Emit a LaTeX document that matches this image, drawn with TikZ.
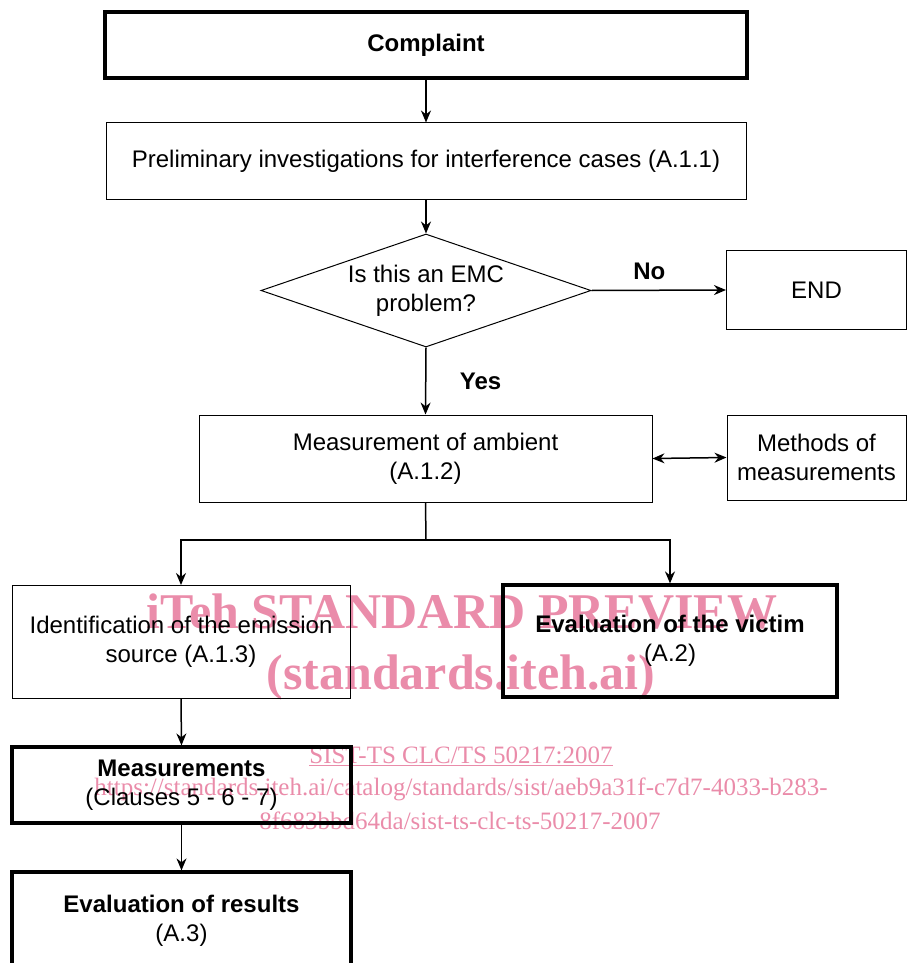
\documentclass[tikz,border=0pt]{standalone}
\usepackage{fontspec}
\setmainfont{Liberation Sans}
\newfontfamily\wmfont{Liberation Serif}
\usetikzlibrary{arrows.meta,shapes.geometric}

\definecolor{wmpink}{RGB}{234,140,170}

\tikzset{
  box/.style={draw, line width=1pt, align=center, inner sep=0pt},
  thickbox/.style={box, line width=3.2pt},
  arr/.style={line width=1.5pt, -{Stealth[length=12pt,width=10pt]}},
  tag/.style={font=\fontsize{24}{29}\selectfont\bfseries},
  wm/.style={text=wmpink, align=center, inner sep=0pt}
}

\begin{document}
\begin{tikzpicture}[x=1pt, y=-1pt, font=\fontsize{24}{29}\selectfont]
\useasboundingbox (0,0) rectangle (906,963);

% watermark (under the chart)
\node[wm, font=\wmfont\fontsize{50}{50}\selectfont\bfseries] (wmtitle) at (462,612) {iTeh STANDARD PREVIEW};
\node[wm, font=\wmfont\fontsize{50}{50}\selectfont\bfseries] (wmsite) at (461,677) {(standards.iteh.ai)};
\node[wm, font=\wmfont\fontsize{25}{25}\selectfont] (wmcode) at (461,756) {\underline{SIST-TS CLC/TS 50217:2007}};
\node[wm, font=\wmfont\fontsize{25}{25}\selectfont] (wmurl) at (461,789) {https://standards.iteh.ai/catalog/standards/sist/aeb9a31f-c7d7-4033-b283-};
\node[wm, font=\wmfont\fontsize{25}{25}\selectfont] (wmurlb) at (460,821) {8f683bbd64da/sist-ts-clc-ts-50217-2007};

% main column
\node[thickbox, minimum width=642, minimum height=66, font=\fontsize{24}{29}\selectfont\bfseries] (complaint) at (426,45) {Complaint};
\node[box, minimum width=640, minimum height=76] (prelim) at (426,161) {Preliminary investigations for interference cases (A.1.1)};
\node[draw, line width=1pt, shape=diamond, aspect=2.9, inner sep=0pt, minimum width=330, minimum height=113, align=center] (emc) at (426,290.5) {Is this an EMC\\problem?};
\node[box, minimum width=180, minimum height=79] (endbox) at (816.5,290) {END};
\node[box, minimum width=453, minimum height=87] (ambient) at (425.5,458.5) {Measurement of ambient\\(A.1.2)};
\node[box, minimum width=179, minimum height=85] (methods) at (816.5,457.5) {Methods of\\measurements};

% split into the two branches
\coordinate (split) at (426,540);
\node[box, minimum width=338, minimum height=113] (ident) at (181,642) {Identification of the emission\\source (A.1.3)};
\node[thickbox, minimum width=334, minimum height=112] (victim) at (670,641) {\textbf{Evaluation of the victim}\\(A.2)};
\node[thickbox, minimum width=339, minimum height=76] (meas) at (181.5,785) {\textbf{Measurements}\\(Clauses 5 - 6 - 7)};
\node[thickbox, minimum width=339, minimum height=98] (results) at (181.5,921) {\textbf{Evaluation of results}\\(A.3)};

% connectors
\draw[arr] (complaint.south) -- (prelim.north);
\draw[arr] (prelim.south) -- (emc.north);
\draw[arr] (emc.east) -- node[tag, above=6pt, pos=0.43] (no) {No} (endbox.west);
\draw[arr] (emc.south) -- node[tag, right=30pt] (yes) {Yes} (ambient.north);
\draw[line width=1.5pt, {Stealth[length=12pt,width=10pt]}-{Stealth[length=12pt,width=10pt]}] (ambient.east) -- (methods.west);
\draw[line width=1.5pt] (ambient.south) -- (split);
\draw[arr] (split) -| (ident.north);
\draw[arr] (split) -| (victim.north);
\draw[arr] (ident.south) -- (meas.north);
\draw[arr] (meas.south) -- (results.north);
\end{tikzpicture}
\end{document}
